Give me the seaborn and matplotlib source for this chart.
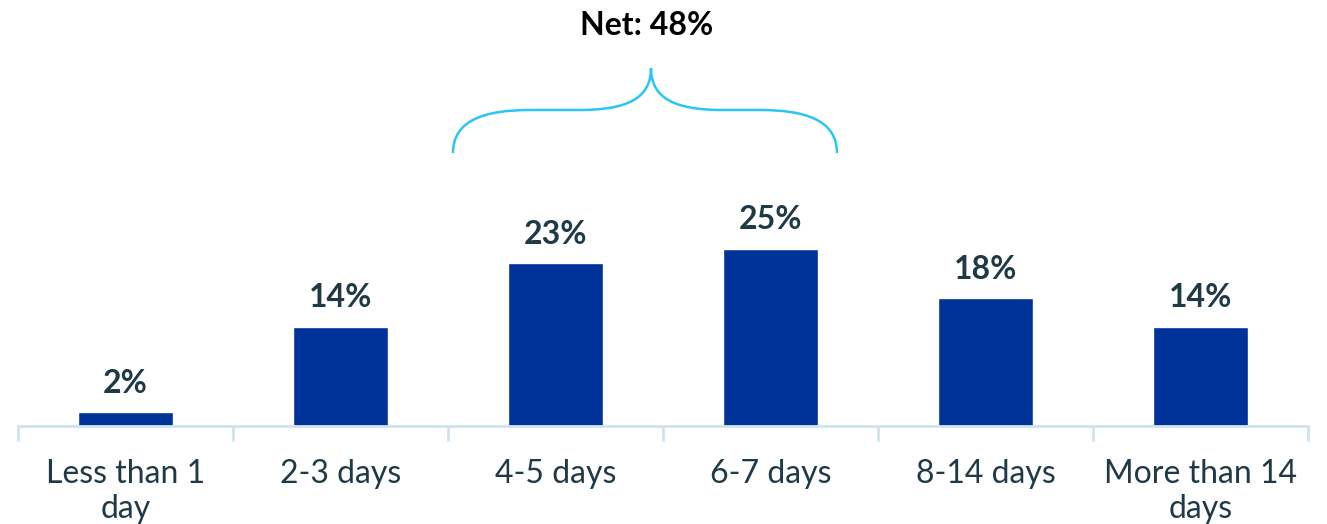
import matplotlib
matplotlib.use("Agg")
import matplotlib.pyplot as plt
from matplotlib.path import Path
from matplotlib.patches import PathPatch
import numpy as np
import pandas as pd
import seaborn as sns

categories = ["Less than 1\nday", "2-3 days", "4-5 days", "6-7 days", "8-14 days", "More than 14\ndays"]
values = [2, 14, 23, 25, 18, 14]
net_label = "Net: 48%"

BAR_COLOR = "#003399"
TEXT_COLOR = "#1f3a46"
AXIS_COLOR = "#cfe3ee"
BRACE_COLOR = "#29c5f6"

sns.set_theme(style="white")
plt.rcParams["font.family"] = ["Lato", "DejaVu Sans"]

fig = plt.figure(figsize=(13.27, 5.24), dpi=100)
W, H = 1327, 524
base_px = 426
ax = fig.add_axes([18 / W, (H - base_px) / H, 1290 / W, base_px / H])

df = pd.DataFrame({"cat": categories, "val": values})
sns.barplot(data=df, x="cat", y="val", color=BAR_COLOR, saturation=1, width=0.44, ax=ax)

px_per_pct = 7.1
ax.set_xlim(-0.5, len(categories) - 0.5)
ax.set_ylim(0, base_px / px_per_pct)

for i, v in enumerate(values):
    ax.text(i, v + 2.7, f"{v}%", ha="center", va="baseline", fontsize=23,
            fontweight="bold", color=TEXT_COLOR)

# axis styling
for s in ["top", "right", "left"]:
    ax.spines[s].set_visible(False)
ax.spines["bottom"].set_color(AXIS_COLOR)
ax.spines["bottom"].set_linewidth(2)
ax.set_yticks([])
ax.set_xlabel("")
ax.set_ylabel("")
ax.set_xticks(range(len(categories)))
ax.set_xticklabels(categories, fontsize=23, color=TEXT_COLOR, linespacing=1.2)
ax.set_xticks(np.arange(-0.5, len(categories)), minor=True)
ax.tick_params(axis="x", which="major", bottom=False, length=0, pad=24)
ax.tick_params(axis="x", which="minor", bottom=True, length=11, width=2, color=AXIS_COLOR)
for lbl in ax.get_xticklabels():
    lbl.set_verticalalignment("top")


def to_x(px):
    return (px - 18) / 215 - 0.5


def to_y(py):
    return (base_px - py) / px_per_pct


# curly brace over the two central categories
xl, xr, xc = 453, 837, 651
yb, ym, yt = 153, 110, 68
pts_px = [
    (xl, yb), (xl, 120), (485, ym), (530, ym),
    (xc - 72, ym),
    (628, ym), (xc, 98), (xc, yt),
    (xc, 98), (674, ym), (xc + 72, ym),
    (xr - 77, ym),
    (xr - 32, ym), (xr, 120), (xr, yb),
]
codes = [Path.MOVETO, Path.CURVE4, Path.CURVE4, Path.CURVE4,
         Path.LINETO,
         Path.CURVE4, Path.CURVE4, Path.CURVE4,
         Path.CURVE4, Path.CURVE4, Path.CURVE4,
         Path.LINETO,
         Path.CURVE4, Path.CURVE4, Path.CURVE4]
verts = [(to_x(x), to_y(y)) for x, y in pts_px]
brace = PathPatch(Path(verts, codes), facecolor="none", edgecolor=BRACE_COLOR,
                  lw=1.8, clip_on=False)
ax.add_patch(brace)

ax.text(to_x(647), to_y(35), net_label, ha="center", va="baseline", fontsize=23,
        fontweight="bold", color="black", clip_on=False)

fig.savefig("out.png", dpi=100)
